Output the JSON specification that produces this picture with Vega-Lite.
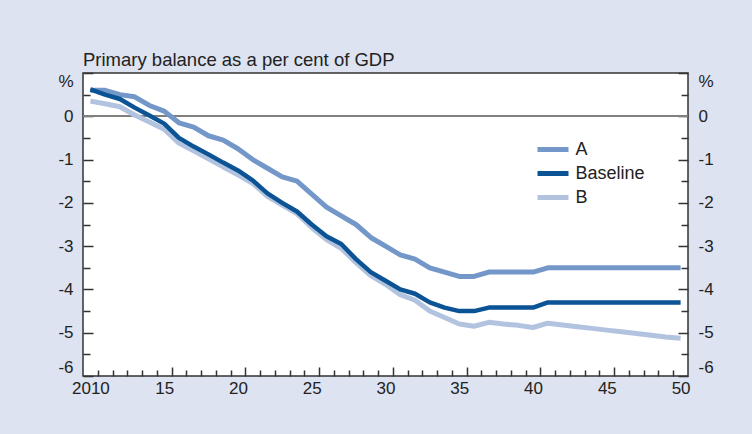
{
  "$schema": "https://vega.github.io/schema/vega-lite/v6.json",
  "autosize": "none",
  "padding": {"left": 83, "top": 73, "right": 64, "bottom": 58},
  "width": 605,
  "height": 303,
  "background": "#dde3f0",
  "title": {"text": "Primary balance as a per cent of GDP", "anchor": "start", "frame": "group", "font": "Liberation Sans", "fontSize": 18.5, "fontWeight": "normal", "color": "#222222", "baseline": "alphabetic", "offset": -12},
  "config": {
    "view": {"stroke": "#333333", "strokeWidth": 1.5, "fill": "#ffffff"},
    "axis": {"labelFont": "Liberation Sans", "labelFontSize": 17, "labelColor": "#222222", "tickColor": "#333333", "tickWidth": 1.5, "grid": false, "domain": false, "title": null},
    "legend": {"labelFont": "Liberation Sans", "labelFontSize": 18, "labelColor": "#222222"}
  },
  "data": {"values": [
    {"year": 2010, "series": "A", "value": 0.6}, {"year": 2011, "series": "A", "value": 0.6}, {"year": 2012, "series": "A", "value": 0.5}, {"year": 2013, "series": "A", "value": 0.45}, {"year": 2014, "series": "A", "value": 0.25}, {"year": 2015, "series": "A", "value": 0.12}, {"year": 2016, "series": "A", "value": -0.15}, {"year": 2017, "series": "A", "value": -0.25}, {"year": 2018, "series": "A", "value": -0.45}, {"year": 2019, "series": "A", "value": -0.55}, {"year": 2020, "series": "A", "value": -0.75}, {"year": 2021, "series": "A", "value": -1.0}, {"year": 2022, "series": "A", "value": -1.2}, {"year": 2023, "series": "A", "value": -1.4}, {"year": 2024, "series": "A", "value": -1.5}, {"year": 2025, "series": "A", "value": -1.8}, {"year": 2026, "series": "A", "value": -2.1}, {"year": 2027, "series": "A", "value": -2.3}, {"year": 2028, "series": "A", "value": -2.5}, {"year": 2029, "series": "A", "value": -2.8}, {"year": 2030, "series": "A", "value": -3.0}, {"year": 2031, "series": "A", "value": -3.2}, {"year": 2032, "series": "A", "value": -3.3}, {"year": 2033, "series": "A", "value": -3.5}, {"year": 2034, "series": "A", "value": -3.6}, {"year": 2035, "series": "A", "value": -3.7}, {"year": 2036, "series": "A", "value": -3.7}, {"year": 2037, "series": "A", "value": -3.6}, {"year": 2038, "series": "A", "value": -3.6}, {"year": 2039, "series": "A", "value": -3.6}, {"year": 2040, "series": "A", "value": -3.6}, {"year": 2041, "series": "A", "value": -3.5}, {"year": 2042, "series": "A", "value": -3.5}, {"year": 2043, "series": "A", "value": -3.5}, {"year": 2044, "series": "A", "value": -3.5}, {"year": 2045, "series": "A", "value": -3.5}, {"year": 2046, "series": "A", "value": -3.5}, {"year": 2047, "series": "A", "value": -3.5}, {"year": 2048, "series": "A", "value": -3.5}, {"year": 2049, "series": "A", "value": -3.5}, {"year": 2050, "series": "A", "value": -3.5},
    {"year": 2010, "series": "Baseline", "value": 0.62}, {"year": 2011, "series": "Baseline", "value": 0.5}, {"year": 2012, "series": "Baseline", "value": 0.4}, {"year": 2013, "series": "Baseline", "value": 0.2}, {"year": 2014, "series": "Baseline", "value": 0.02}, {"year": 2015, "series": "Baseline", "value": -0.17}, {"year": 2016, "series": "Baseline", "value": -0.5}, {"year": 2017, "series": "Baseline", "value": -0.7}, {"year": 2018, "series": "Baseline", "value": -0.88}, {"year": 2019, "series": "Baseline", "value": -1.07}, {"year": 2020, "series": "Baseline", "value": -1.25}, {"year": 2021, "series": "Baseline", "value": -1.48}, {"year": 2022, "series": "Baseline", "value": -1.78}, {"year": 2023, "series": "Baseline", "value": -2.0}, {"year": 2024, "series": "Baseline", "value": -2.2}, {"year": 2025, "series": "Baseline", "value": -2.5}, {"year": 2026, "series": "Baseline", "value": -2.77}, {"year": 2027, "series": "Baseline", "value": -2.95}, {"year": 2028, "series": "Baseline", "value": -3.3}, {"year": 2029, "series": "Baseline", "value": -3.6}, {"year": 2030, "series": "Baseline", "value": -3.8}, {"year": 2031, "series": "Baseline", "value": -4.0}, {"year": 2032, "series": "Baseline", "value": -4.1}, {"year": 2033, "series": "Baseline", "value": -4.3}, {"year": 2034, "series": "Baseline", "value": -4.42}, {"year": 2035, "series": "Baseline", "value": -4.5}, {"year": 2036, "series": "Baseline", "value": -4.5}, {"year": 2037, "series": "Baseline", "value": -4.42}, {"year": 2038, "series": "Baseline", "value": -4.42}, {"year": 2039, "series": "Baseline", "value": -4.42}, {"year": 2040, "series": "Baseline", "value": -4.42}, {"year": 2041, "series": "Baseline", "value": -4.3}, {"year": 2042, "series": "Baseline", "value": -4.3}, {"year": 2043, "series": "Baseline", "value": -4.3}, {"year": 2044, "series": "Baseline", "value": -4.3}, {"year": 2045, "series": "Baseline", "value": -4.3}, {"year": 2046, "series": "Baseline", "value": -4.3}, {"year": 2047, "series": "Baseline", "value": -4.3}, {"year": 2048, "series": "Baseline", "value": -4.3}, {"year": 2049, "series": "Baseline", "value": -4.3}, {"year": 2050, "series": "Baseline", "value": -4.3},
    {"year": 2010, "series": "B", "value": 0.35}, {"year": 2011, "series": "B", "value": 0.29}, {"year": 2012, "series": "B", "value": 0.22}, {"year": 2013, "series": "B", "value": 0.03}, {"year": 2014, "series": "B", "value": -0.13}, {"year": 2015, "series": "B", "value": -0.3}, {"year": 2016, "series": "B", "value": -0.62}, {"year": 2017, "series": "B", "value": -0.8}, {"year": 2018, "series": "B", "value": -0.98}, {"year": 2019, "series": "B", "value": -1.17}, {"year": 2020, "series": "B", "value": -1.35}, {"year": 2021, "series": "B", "value": -1.55}, {"year": 2022, "series": "B", "value": -1.85}, {"year": 2023, "series": "B", "value": -2.05}, {"year": 2024, "series": "B", "value": -2.25}, {"year": 2025, "series": "B", "value": -2.57}, {"year": 2026, "series": "B", "value": -2.85}, {"year": 2027, "series": "B", "value": -3.05}, {"year": 2028, "series": "B", "value": -3.38}, {"year": 2029, "series": "B", "value": -3.68}, {"year": 2030, "series": "B", "value": -3.88}, {"year": 2031, "series": "B", "value": -4.12}, {"year": 2032, "series": "B", "value": -4.25}, {"year": 2033, "series": "B", "value": -4.5}, {"year": 2034, "series": "B", "value": -4.65}, {"year": 2035, "series": "B", "value": -4.8}, {"year": 2036, "series": "B", "value": -4.85}, {"year": 2037, "series": "B", "value": -4.76}, {"year": 2038, "series": "B", "value": -4.8}, {"year": 2039, "series": "B", "value": -4.83}, {"year": 2040, "series": "B", "value": -4.88}, {"year": 2041, "series": "B", "value": -4.78}, {"year": 2042, "series": "B", "value": -4.82}, {"year": 2043, "series": "B", "value": -4.86}, {"year": 2044, "series": "B", "value": -4.9}, {"year": 2045, "series": "B", "value": -4.94}, {"year": 2046, "series": "B", "value": -4.98}, {"year": 2047, "series": "B", "value": -5.02}, {"year": 2048, "series": "B", "value": -5.06}, {"year": 2049, "series": "B", "value": -5.1}, {"year": 2050, "series": "B", "value": -5.13}
  ]},
  "layer": [
    {
      "mark": {"type": "rule", "color": "#808080", "strokeWidth": 1.5},
      "encoding": {
        "y": {"datum": 0, "type": "quantitative", "scale": {"domain": [-6, 1]},
          "axis": {"orient": "left", "values": [-5.5, -4.5, -3.5, -2.5, -1.5, -0.5, 0.5], "tickSize": -7, "labels": false}}
      }
    },
    {
      "transform": [{"filter": "datum.series == 'B'"}],
      "mark": {"type": "line", "strokeWidth": 5, "strokeJoin": "round"},
      "encoding": {
        "x": {"field": "year", "type": "quantitative", "scale": {"domain": [2009.5, 2050.5], "nice": false, "zero": false},
          "axis": {"orient": "bottom", "values": [2010, 2015, 2020, 2025, 2030, 2035, 2040, 2045, 2050], "ticks": false, "labelPadding": 4, "labelExpr": "datum.value == 2010 ? '2010' : substring(toString(datum.value), 2)"}},
        "y": {"field": "value", "type": "quantitative", "scale": {"domain": [-6, 1], "nice": false, "zero": false},
          "axis": {"orient": "left", "values": [-6, -5, -4, -3, -2, -1, 0, 1], "tickSize": -10, "labelPadding": 20, "labelFlush": true, "labelExpr": "datum.value == 1 ? '%' : toString(datum.value)"}},
        "color": {"field": "series", "type": "nominal", "scale": {"domain": ["A", "Baseline", "B"], "range": ["#7397c8", "#0b5394", "#b2c3e0"]},
          "legend": {"orient": "none", "legendX": 457.5, "legendY": 64, "title": null, "symbolType": "M-1.55,0H1.55", "symbolSize": 400, "symbolStrokeWidth": 5, "labelOffset": 10, "rowPadding": 1, "padding": 0}}
      }
    },
    {
      "transform": [{"filter": "datum.series == 'A'"}],
      "mark": {"type": "line", "strokeWidth": 5, "strokeJoin": "round"},
      "encoding": {
        "x": {"field": "year", "type": "quantitative",
          "axis": {"orient": "bottom", "values": [2010.5, 2011.5, 2012.5, 2013.5, 2014.5, 2016.5, 2017.5, 2018.5, 2019.5, 2021.5, 2022.5, 2023.5, 2024.5, 2026.5, 2027.5, 2028.5, 2029.5, 2031.5, 2032.5, 2033.5, 2034.5, 2036.5, 2037.5, 2038.5, 2039.5, 2041.5, 2042.5, 2043.5, 2044.5, 2046.5, 2047.5, 2048.5, 2049.5], "tickSize": -6, "labels": false}},
        "y": {"field": "value", "type": "quantitative",
          "axis": {"orient": "right", "values": [-5.5, -4.5, -3.5, -2.5, -1.5, -0.5, 0.5], "tickSize": -7, "labels": false}},
        "color": {"field": "series", "type": "nominal"}
      }
    },
    {
      "transform": [{"filter": "datum.series == 'Baseline'"}],
      "mark": {"type": "line", "strokeWidth": 4.5, "strokeJoin": "round"},
      "encoding": {
        "x": {"field": "year", "type": "quantitative",
          "axis": {"orient": "bottom", "values": [2015.5, 2020.5, 2025.5, 2030.5, 2035.5, 2040.5, 2045.5], "tickSize": -9, "labels": false}},
        "y": {"field": "value", "type": "quantitative",
          "axis": {"orient": "right", "values": [-6, -5, -4, -3, -2, -1, 0, 1], "tickSize": -10, "labelPadding": 20, "labelFlush": true, "labelExpr": "datum.value == 1 ? '%' : toString(datum.value)"}},
        "color": {"field": "series", "type": "nominal"}
      }
    }
  ],
  "resolve": {"axis": {"x": "independent", "y": "independent"}}
}
